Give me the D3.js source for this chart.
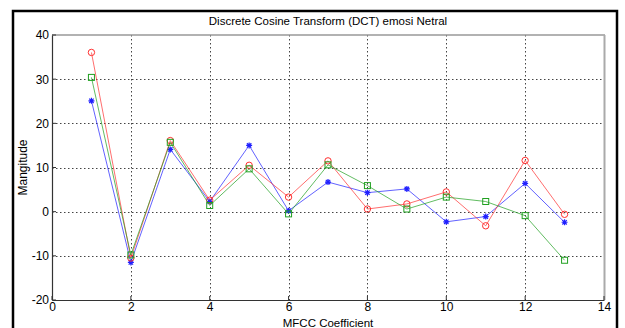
<!DOCTYPE html>
<html><head><meta charset="utf-8">
<script src="https://cdn.jsdelivr.net/npm/d3@7"></script>
<style>
html,body{margin:0;padding:0;background:#fff;}
svg{display:block;font-family:"Liberation Sans",Arial,sans-serif;}
</style></head>
<body><svg id="c" width="625" height="328"></svg>
<script>
const coefficients = [1,2,3,4,5,6,7,8,9,10,11,12,13];
const seriesBlue  = [25.1,-11.5,14.1,2.3,15.0,0.2,6.7,4.3,5.15,-2.3,-1.1,6.4,-2.4];
const seriesRed   = [36.05,-10.5,16.1,2.6,10.5,3.3,11.5,0.6,1.75,4.47,-3.2,11.6,-0.6];
const seriesGreen = [30.4,-9.8,15.7,1.4,9.7,-0.5,10.6,5.9,0.6,3.3,2.3,-0.9,-11.0];
const xTicks = [0,2,4,6,8,10,12,14];
const yTicks = [-20,-10,0,10,20,30,40];
const titleText = "Discrete Cosine Transform (DCT) emosi Netral";
const xLabel = "MFCC Coefficient";
const yLabel = "Mangitude";

const svg = d3.select("#c");
const L = 52, R = 604, T = 35, B = 300;
const x = d3.scaleLinear().domain([0,14]).range([L,R]);
const y = d3.scaleLinear().domain([-20,40]).range([B,T]);

// figure border
svg.append("rect").attr("x",13).attr("y",11).attr("width",604).attr("height",330)
  .attr("fill","#fff").attr("stroke","#000").attr("stroke-width",2.5);

// grid
const g = svg.append("g");
g.selectAll(".gx").data(xTicks.slice(1,-1)).enter().append("line")
  .attr("x1",d=>Math.round(x(d))+0.5).attr("x2",d=>Math.round(x(d))+0.5)
  .attr("y1",T).attr("y2",B)
  .attr("stroke","#444").attr("stroke-width",1).attr("stroke-dasharray","1.5,2.5");
g.selectAll(".gy").data(yTicks.slice(1,-1)).enter().append("line")
  .attr("y1",d=>Math.round(y(d))+0.5).attr("y2",d=>Math.round(y(d))+0.5)
  .attr("x1",L).attr("x2",R)
  .attr("stroke","#444").attr("stroke-width",1).attr("stroke-dasharray","1.5,2.5");

// box top/right
svg.append("line").attr("x1",L).attr("x2",R+1).attr("y1",T).attr("y2",T).attr("stroke","#999").attr("stroke-width",1.5);
svg.append("line").attr("x1",R+0.5).attr("x2",R+0.5).attr("y1",T).attr("y2",B).attr("stroke","#aaa").attr("stroke-width",2);

// axes
const fmt = d => String(d);
const xAxis = d3.axisBottom(x).tickValues(xTicks).tickSize(0).tickPadding(2).tickFormat(fmt);
const yAxis = d3.axisLeft(y).tickValues(yTicks).tickSize(0).tickPadding(3).tickFormat(fmt);
const gx = svg.append("g").attr("transform",`translate(0,${B})`).call(xAxis);
const gy = svg.append("g").attr("transform",`translate(${L},0)`).call(yAxis);
[gx,gy].forEach(a=>{
  a.select(".domain").attr("stroke","#333").attr("stroke-width",1.2);
  a.selectAll("text").attr("font-size",12).attr("fill","#000").attr("font-family","Liberation Sans, Arial, sans-serif");
});
// inner tick marks
svg.selectAll(".tx").data(xTicks).enter().append("line")
  .attr("x1",d=>x(d)).attr("x2",d=>x(d)).attr("y1",B).attr("y2",B-4).attr("stroke","#333");
svg.selectAll(".ty").data(yTicks).enter().append("line")
  .attr("y1",d=>y(d)).attr("y2",d=>y(d)).attr("x1",L).attr("x2",L+4).attr("stroke","#333");

// series
const line = d3.line().x((d,i)=>x(coefficients[i])).y(d=>y(d));
const series = [
  {vals:seriesBlue, color:"#2020ff", marker:"star"},
  {vals:seriesRed, color:"#ff3030", marker:"circle"},
  {vals:seriesGreen, color:"#20a020", marker:"square"}
];
series.forEach(s=>{
  svg.append("path").attr("d",line(s.vals)).attr("fill","none").attr("stroke",s.color).attr("stroke-width",1).attr("stroke-opacity",0.7);
  const m = svg.append("g");
  s.vals.forEach((v,i)=>{
    const cx = x(coefficients[i]), cy = y(v);
    if(s.marker==="circle"){
      m.append("circle").attr("cx",cx).attr("cy",cy).attr("r",3.2).attr("fill","none").attr("stroke",s.color).attr("stroke-width",1);
    } else if(s.marker==="square"){
      m.append("rect").attr("x",cx-3).attr("y",cy-3).attr("width",6).attr("height",6).attr("fill","none").attr("stroke",s.color).attr("stroke-width",1);
    } else {
      const r=3;
      m.append("path").attr("d",`M${cx-r},${cy}H${cx+r}M${cx},${cy-r}V${cy+r}M${cx-2.2},${cy-2.2}L${cx+2.2},${cy+2.2}M${cx-2.2},${cy+2.2}L${cx+2.2},${cy-2.2}`)
        .attr("stroke",s.color).attr("stroke-width",1.2).attr("fill","none");
    }
  });
});

// title and labels
svg.append("text").attr("x",(L+R)/2).attr("y",25).attr("text-anchor","middle").attr("font-size",11.5).text(titleText);
svg.append("text").attr("x",(L+R)/2).attr("y",326.5).attr("text-anchor","middle").attr("font-size",11.5).text(xLabel);
svg.append("text").attr("transform",`translate(27,${(T+B)/2}) rotate(-90)`).attr("text-anchor","middle").attr("font-size",12).text(yLabel);
</script></body></html>
